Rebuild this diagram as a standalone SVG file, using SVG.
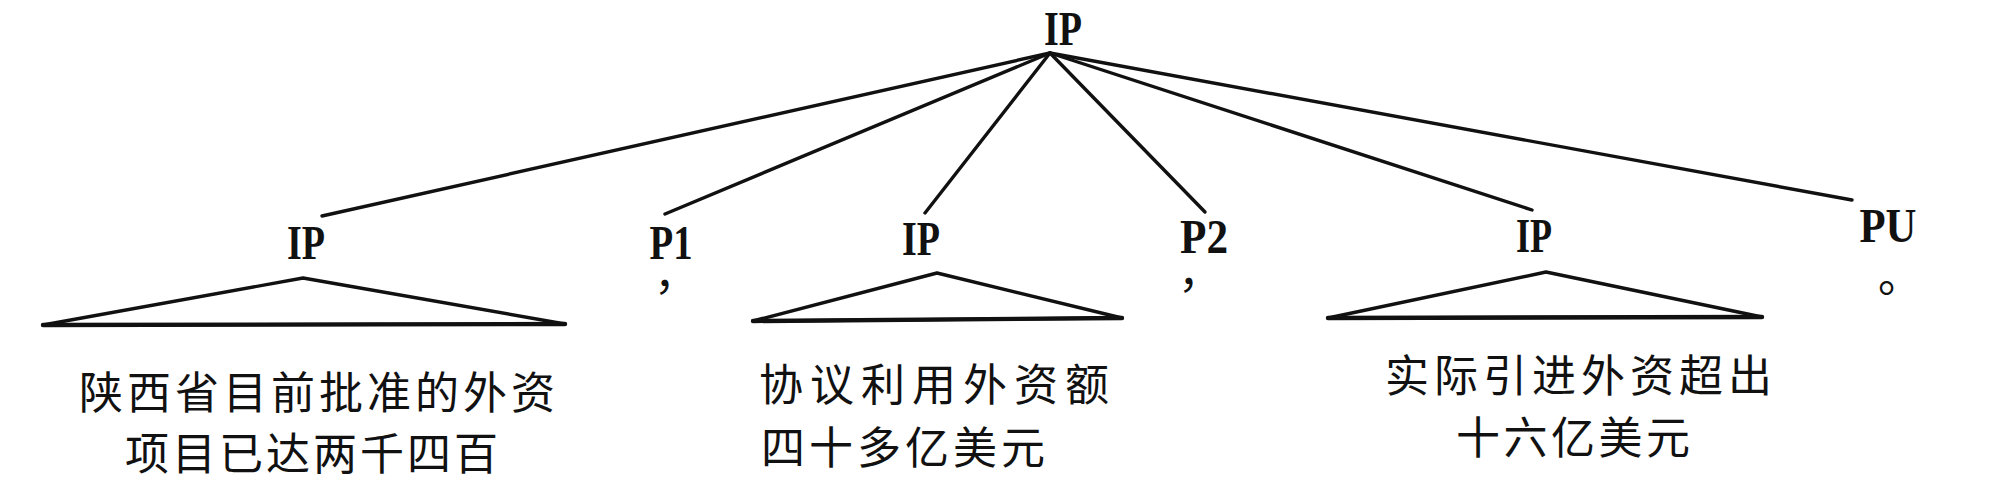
<svg xmlns="http://www.w3.org/2000/svg" width="2004" height="484" viewBox="0 0 2004 484">
<style>
.bg{fill:#ffffff}
.lbl{font-family:"Liberation Serif","Times New Roman",serif;font-size:48px;font-weight:bold;fill:#111;text-anchor:middle}
.lbs{font-family:"Liberation Serif","Times New Roman",serif;font-size:48px;font-weight:bold;fill:#111}
.cjk{font-family:"Noto Sans CJK SC","Noto Sans",sans-serif;font-size:44px;fill:#111;font-weight:normal}
.edge{stroke:#111;stroke-width:3.4;fill:none;stroke-linecap:round}
.tri{stroke:#111;stroke-width:3.4;fill:none;stroke-linejoin:round}
.base{stroke:#111;stroke-width:4.4;stroke-linecap:round}
</style>
<rect class="bg" x="0" y="0" width="2004" height="484"/>
<g id="connectors">
<line class="edge" x1="1050" y1="53" x2="322" y2="216"/>
<line class="edge" x1="1050" y1="53" x2="665" y2="214"/>
<line class="edge" x1="1050" y1="53" x2="925" y2="213"/>
<line class="edge" x1="1050" y1="53" x2="1205" y2="212"/>
<line class="edge" x1="1050" y1="53" x2="1532" y2="210"/>
<line class="edge" x1="1050" y1="53" x2="1852" y2="200"/>
</g>
<g id="root">
<text class="lbl" x="1063" y="45" textLength="38" lengthAdjust="spacingAndGlyphs">IP</text>
</g>
<g id="ip1">
<text class="lbl" x="306" y="259" textLength="38" lengthAdjust="spacingAndGlyphs">IP</text>
<path class="tri" d="M303,278 L565,324 L43,325 Z"/>
<line class="base" x1="43" y1="325" x2="565" y2="324"/>
<text class="cjk" x="79" y="409" letter-spacing="4">陕西省目前批准的外资</text>
<text class="cjk" x="125" y="470" letter-spacing="3">项目已达两千四百</text>
</g>
<g id="p1">
<text class="lbs"><tspan x="649.5" y="259" textLength="43" lengthAdjust="spacingAndGlyphs">P1</tspan><tspan class="cjk" x="654" y="290">，</tspan></text>
</g>
<g id="ip2">
<text class="lbl" x="921" y="255" textLength="38" lengthAdjust="spacingAndGlyphs">IP</text>
<path class="tri" d="M937,273 L1122,318 L753,321 Z"/>
<line class="base" x1="753" y1="321" x2="1122" y2="318"/>
<text class="cjk" x="759" y="401" letter-spacing="7">协议利用外资额</text>
<text class="cjk" x="761" y="464" letter-spacing="4">四十多亿美元</text>
</g>
<g id="p2">
<text class="lbs"><tspan x="1180" y="253" textLength="48" lengthAdjust="spacingAndGlyphs">P2</tspan><tspan class="cjk" x="1178" y="288">，</tspan></text>
</g>
<g id="ip3">
<text class="lbl" x="1534" y="252" textLength="36" lengthAdjust="spacingAndGlyphs">IP</text>
<path class="tri" d="M1546,272 L1762,317 L1328,318 Z"/>
<line class="base" x1="1328" y1="318" x2="1762" y2="317"/>
<text class="cjk" x="1385" y="392" letter-spacing="5">实际引进外资超出</text>
<text class="cjk" x="1456" y="454" letter-spacing="3.5">十六亿美元</text>
</g>
<g id="pu">
<text class="lbs"><tspan x="1859.5" y="242" textLength="57" lengthAdjust="spacingAndGlyphs">PU</tspan><tspan class="cjk" x="1878" y="292">。</tspan></text>
</g>
</svg>
